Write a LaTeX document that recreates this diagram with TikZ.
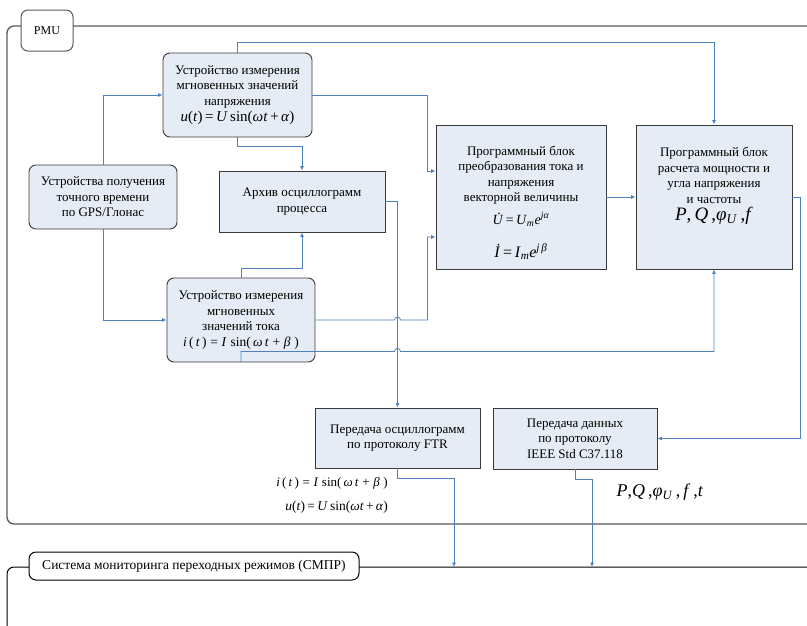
\documentclass[tikz,border=0pt]{standalone}
\usepackage{fontspec}
\setmainfont{Liberation Serif}
\usetikzlibrary{arrows.meta}
\definecolor{boxfill}{HTML}{E6ECF5}
\definecolor{boxline}{HTML}{3A3A3A}
\definecolor{linkblue}{HTML}{4F81BD}
\definecolor{framegray}{HTML}{5A5A5A}
\newcommand{\vi}[1]{\textit{#1}}
\newcommand{\fsz}[1]{\fontsize{#1}{#1}\selectfont}
\newcommand{\dotU}{\ooalign{\vi{U}\cr\hidewidth\kern0.15em\smash{\raisebox{0.7em}{.}}\hidewidth\cr}}

\begin{document}
\begin{tikzpicture}[x=1pt, y=-1pt,
            box/.style={rectangle, draw=boxline, fill=boxfill, line width=0.9pt, inner sep=1pt, align=center, font=\fontsize{13}{15.5}\selectfont},
            rbox/.style={box, rounded corners=7pt},
            tab/.style={rectangle, rounded corners=7pt, draw=framegray, fill=white, line width=1pt, align=center, font=\fontsize{12}{14}\selectfont},
            arrow/.style={draw=linkblue, line width=0.8pt, -{Latex[length=4.5pt,width=4pt]}},
            link/.style={draw=linkblue, line width=0.8pt}
        ]
            \useasboundingbox (0,0) rectangle (807,625);
            \draw[framegray, line width=1.3pt, rounded corners=7pt] (812,26) -- (7,26) -- (7,524) -- (812,524);
            \draw[black, line width=1pt, rounded corners=7pt] (812,567) -- (7,567) -- (7,640);

            \node[tab, minimum width=52pt, minimum height=41pt] (pmu) at (47,30.5) {PMU};
            \node[tab, draw=black, minimum width=330pt, minimum height=28pt, font=\fsz{13.5}] (smpr) at (194,566) {Система мониторинга переходных режимов (СМПР)};

            \node[rbox, minimum width=149pt, minimum height=84pt] (volt) at (237.5,95) {Устройство измерения\\мгновенных значений\\напряжения\\[1pt]{\fsz{15}\vi{u}(\vi{t})\,=\,\vi{U}\,sin(\vi{ωt}\,+\,\vi{α})}};
            \node[rbox, minimum width=148pt, minimum height=64pt] (gps) at (103,197) {Устройства получения\\точного времени\\по GPS/Глонас};
            \node[box, minimum width=166pt, minimum height=61pt] (arch) at (302,201.5) {Архив осциллограмм\\процесса};
            \node[rbox, minimum width=148pt, minimum height=84pt] (cur) at (241,320) {Устройство измерения\\мгновенных\\значений тока\\{\fsz{13.5}\vi{i}\,(\,\vi{t}\,)\;=\;\vi{I}\;sin(\,\vi{ω}\,\vi{t}\;+\;\vi{β}\;)}};
            \node[box, minimum width=170pt, minimum height=144pt] (conv) at (521,197) {\rule{0pt}{21pt}Программный блок\\преобразования тока и\\напряжения\\векторной величины\\[7pt]{\fsz{14}\dotU\,=\,\vi{U}\textsubscript{\vi{m}}\vi{e}\textsuperscript{\vi{jα}}}\\[16pt]{\fsz{16}\vi{İ}\,=\,\vi{I}\textsubscript{\vi{m}}\vi{e}\textsuperscript{\vi{j\,β}}}};
            \node[box, minimum width=156pt, minimum height=144pt] (calc) at (714,197) {Программный блок\\расчета мощности и\\угла напряжения\\и частоты\\[2pt]{\fsz{19}\vi{P},\,\vi{Q}\,,\vi{φ}\textsubscript{\vi{U}}\,,\vi{f}}\rule[-26pt]{0pt}{0pt}};
            \node[box, minimum width=165pt, minimum height=60pt] (ftr) at (397.5,438) {Передача осциллограмм\\по протоколу FTR};
            \node[box, minimum width=164pt, minimum height=61pt] (ieee) at (575,438.5) {Передача данных\\по протоколу\\IEEE Std C37.118};

            \node[anchor=east, inner sep=0pt, font=\fsz{13}] (ilabel) at (388,483) {\vi{i}\,(\,\vi{t}\,)\;=\;\vi{I}\;sin(\,\vi{ω}\,\vi{t}\;+\;\vi{β}\;)};
            \node[anchor=east, inner sep=0pt, font=\fsz{13.5}] (ulabel) at (388,507) {\vi{u}(\vi{t})\,=\,\vi{U}\,sin(\vi{ωt}\,+\,\vi{α})};
            \node[inner sep=0pt, font=\fsz{18}] (pqlabel) at (660,492) {\vi{P},\vi{Q}\,,\vi{φ}\textsubscript{\vi{U}}\,,\,\vi{f}\,,\vi{t}};

            \coordinate (vbus) at (427.5,0);
            \coordinate (ftrin) at (454,567);
            \coordinate (ieein) at (592,567);

            \draw[arrow] (volt.north) -- ++(0,-10) -| (calc.north);
            \draw[arrow] (volt.east) -- (volt.east -| vbus) |- ([yshift=26pt]conv.west);
            \draw[arrow] (volt.south) -- ++(0,9) -| (arch.north);
            \draw[arrow] (gps.north) |- (volt.west);
            \draw[arrow] (gps.south) |- (cur.west);
            \draw[arrow] (cur.north) -- ++(0,-9) -| (arch.south);
            \draw[arrow] (arch.east) -| (ftr.north);
            \draw[arrow] (cur.east) -- ([xshift=-3pt]cur.east -| ftr.north) arc[start angle=180, end angle=0, radius=3pt] -- (cur.east -| vbus) |- ([yshift=-40pt]conv.west);
            \draw[arrow] (cur.south) -- ++(0,-11) coordinate (ib) -- ([xshift=-3pt]ib -| ftr.north) arc[start angle=180, end angle=0, radius=3pt] -- (ib -| calc.south) -- (calc.south);
            \draw[arrow] (conv.east) -- (calc.west);
            \draw[arrow] (calc.east) -- ++(8,0) |- (ieee.east);
            \draw[arrow] (ftr.south) -- ++(0,10) -| (ftrin);
            \draw[arrow] (ieee.south) -- ++(0,10) -| (ieein);
        \end{tikzpicture}
\end{document}
